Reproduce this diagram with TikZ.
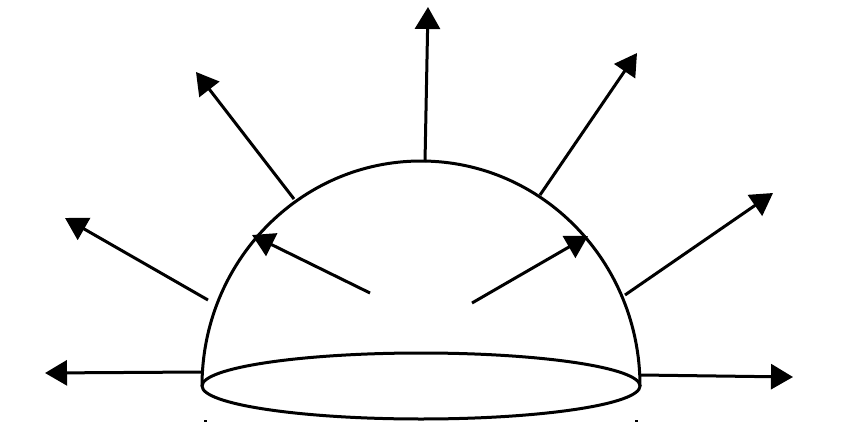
\documentclass[tikz,border=0pt]{standalone}
\usetikzlibrary{arrows.meta}
\begin{document}
\begin{tikzpicture}[x=1pt,y=-1pt,
  ray/.style={line width=3pt,-{Triangle[length=22pt,width=25pt]}},
  shell/.style={line width=3pt}]
\useasboundingbox (0,0) rectangle (842,425);
% dome
\draw[shell] (202,386) arc[start angle=180,end angle=0,x radius=219,y radius=-225];
% base ellipse
\draw[shell] (421,386) ellipse[x radius=219,y radius=33];
% start and tip coordinates
\coordinate (s1) at (201,372); \coordinate (t1) at (45,373);
\coordinate (s2) at (208,300); \coordinate (t2) at (65,218);
\coordinate (s3) at (294,199); \coordinate (t3) at (196,72);
\coordinate (s4) at (425,162); \coordinate (t4) at (428,7);
\coordinate (s5) at (540,195); \coordinate (t5) at (637,53);
\coordinate (s6) at (625,295); \coordinate (t6) at (773,193);
\coordinate (s7) at (640,375); \coordinate (t7) at (793,377);
\coordinate (s8) at (370,293); \coordinate (t8) at (252,235);
\coordinate (s9) at (472,303); \coordinate (t9) at (588,236);
\foreach \i in {1,...,9} \draw[ray] (s\i) -- (t\i);
% tiny marks below the base
\draw[line width=1.2pt] (204,421) -- (207,421);
\draw[line width=1.2pt] (635,421) -- (638,421);
\end{tikzpicture}
\end{document}
